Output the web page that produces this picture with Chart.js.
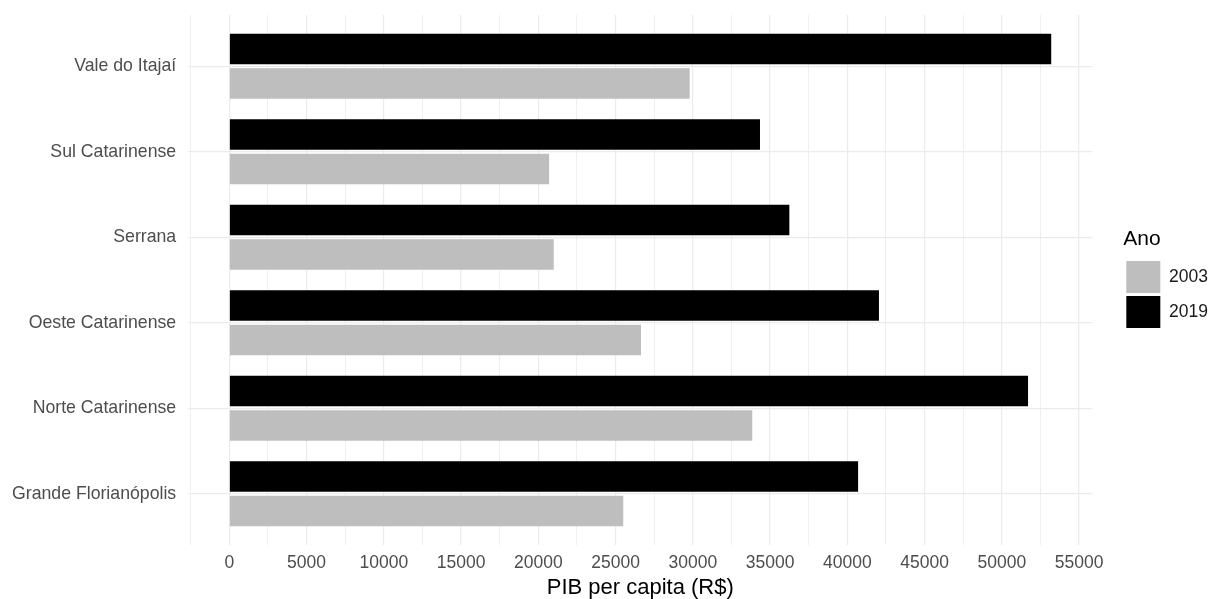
<!DOCTYPE html>
<html lang="pt-BR">
<head>
<meta charset="utf-8">
<title>PIB per capita – Mesorregiões de SC</title>
<script src="https://cdn.jsdelivr.net/npm/chart.js@4.4.1/dist/chart.umd.min.js"></script>
<style>
  html, body { margin: 0; padding: 0; background: #fff; }
</style>
</head>
<body>
<canvas id="pibChart" width="1224" height="599"></canvas>
<script>
// ---- dados ----
const regioes = ['Vale do Itajaí', 'Sul Catarinense', 'Serrana', 'Oeste Catarinense', 'Norte Catarinense', 'Grande Florianópolis'];
const pib2019 = [53200, 34350, 36250, 42050, 51700, 40700];
const pib2003 = [29800, 20700, 21000, 26650, 33850, 25500];
const anos    = ['2019', '2003'];
const cores   = ['#000000', '#bebebe'];
const xLabels = [0, 5000, 10000, 15000, 20000, 25000, 30000, 35000, 40000, 45000, 50000, 55000];
const xMinorStep = 2500;

// ggplot-like 5% expansion of the value range
const maxVal = Math.max(...pib2019, ...pib2003);
const xMin = -0.05 * maxVal;
const xMax = 1.05 * maxVal;

Chart.defaults.font.family = '"Liberation Sans", Arial, sans-serif';
Chart.defaults.color = '#4d4d4d';

const toPoints = arr => arr.map((v, i) => ({ x: v, y: i }));

new Chart(document.getElementById('pibChart'), {
  type: 'bar',
  data: {
    datasets: [
      { label: anos[0], data: toPoints(pib2019), backgroundColor: cores[0], categoryPercentage: 0.806, barPercentage: 0.884 },
      { label: anos[1], data: toPoints(pib2003), backgroundColor: cores[1], categoryPercentage: 0.806, barPercentage: 0.884 }
    ]
  },
  options: {
    indexAxis: 'y',
    responsive: false,
    animation: false,
    layout: { padding: { left: 0, right: 6, top: 15, bottom: 0 } },
    plugins: {
      tooltip: { enabled: false },
      legend: {
        position: 'right',
        fullSize: false,
        reverse: true,
        title: { display: true, text: 'Ano', color: '#000', position: 'start', font: { size: 21 }, padding: { top: 0, bottom: 4 } },
        labels: { boxWidth: 34, boxHeight: 32, padding: 3, color: '#1a1a1a', font: { size: 17.5 } }
      }
    },
    scales: {
      x: {
        type: 'linear',
        min: xMin,
        max: xMax,
        border: { display: false },
        grid: {
          color: '#ebebeb',
          lineWidth: c => (c.tick && c.tick.value % 5000 === 0) ? 1.2 : 0.8,
          drawTicks: false,
          tickLength: 0
        },
        // gridlines every 2500, labels only where the reference has them
        afterBuildTicks: s => {
          const t = [];
          for (let v = Math.ceil(xMin / xMinorStep) * xMinorStep; v <= xMax; v += xMinorStep) t.push({ value: v });
          s.ticks = t;
        },
        ticks: {
          autoSkip: false,
          maxRotation: 0,
          padding: 7.5,
          color: '#4d4d4d',
          font: { size: 17.5 },
          callback: v => xLabels.includes(v) ? String(v) : ''
        },
        title: { display: true, text: 'PIB per capita (R$)', color: '#000', font: { size: 22, lineHeight: 1 }, padding: { top: -4, bottom: 0 } }
      },
      y: {
        type: 'linear',
        min: -0.6,
        max: regioes.length - 0.4,
        reverse: true,
        offset: false,
        border: { display: false },
        grid: { color: '#ebebeb', lineWidth: 1.2, offset: false, drawTicks: false, tickLength: 0 },
        ticks: {
          stepSize: 1,
          includeBounds: false,
          autoSkip: false,
          padding: 12,
          color: '#4d4d4d',
          font: { size: 17.7 },
          callback: v => regioes[v] ?? ''
        },
        // labels sit well inside the panel, no need for edge padding
        afterFit: s => { s.paddingTop = 0; s.paddingBottom = 0; }
      },
      // empty box that keeps the legend away from the panel
      gap: {
        type: 'linear',
        position: 'right',
        display: true,
        grid: { display: false },
        border: { display: false },
        ticks: { display: false },
        afterFit: s => { s.width = 31; s.paddingTop = 0; s.paddingBottom = 0; }
      }
    }
  }
});
</script>
</body>
</html>
